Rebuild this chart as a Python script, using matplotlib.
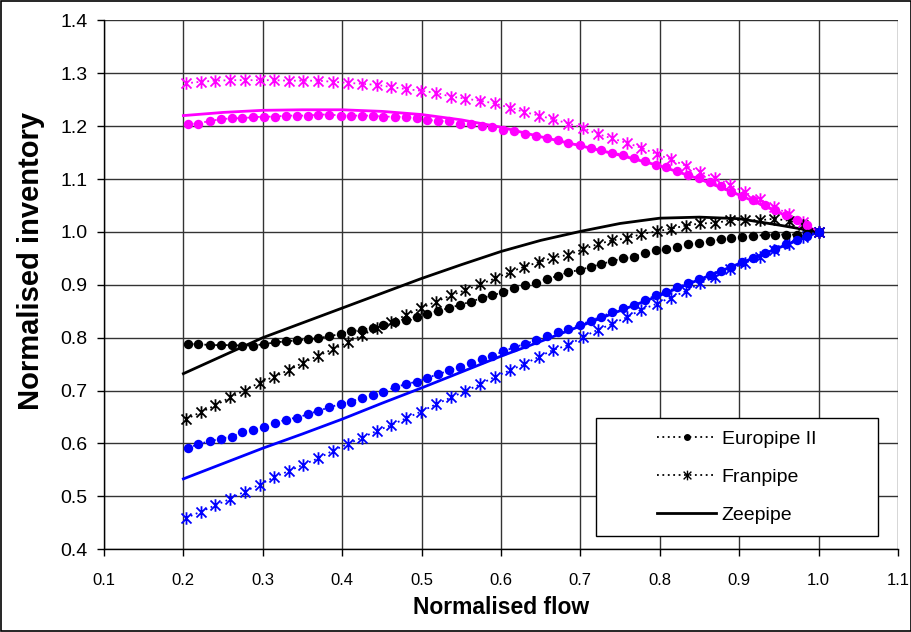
import matplotlib.pyplot as plt
from matplotlib.path import Path
from matplotlib.patches import Rectangle
from matplotlib.lines import Line2D

plt.rcParams['font.family'] = ['Liberation Sans', 'DejaVu Sans']

# flow values of the three data sets
x_euro = [0.206, 0.219, 0.233, 0.247, 0.261, 0.274, 0.288, 0.302, 0.315, 0.329,
          0.343, 0.357, 0.370, 0.384, 0.398, 0.411, 0.425, 0.439, 0.452, 0.466,
          0.480, 0.494, 0.507, 0.521, 0.535, 0.548, 0.562, 0.576, 0.589, 0.603,
          0.617, 0.630, 0.644, 0.658, 0.672, 0.685, 0.699, 0.713, 0.726, 0.740,
          0.754, 0.767, 0.781, 0.795, 0.808, 0.822, 0.836, 0.849, 0.863, 0.877,
          0.890, 0.904, 0.918, 0.932, 0.945, 0.959, 0.973, 0.986, 1.000]
x_fran = [0.203, 0.222, 0.240, 0.259, 0.277, 0.296, 0.314, 0.333, 0.351, 0.370,
          0.388, 0.407, 0.425, 0.444, 0.462, 0.481, 0.499, 0.518, 0.537, 0.555,
          0.574, 0.592, 0.611, 0.629, 0.648, 0.666, 0.685, 0.703, 0.722, 0.740,
          0.759, 0.777, 0.796, 0.814, 0.833, 0.851, 0.870, 0.889, 0.907, 0.926,
          0.944, 0.963, 0.981, 1.000]
x_zee = [0.20, 0.25, 0.30, 0.35, 0.40, 0.45, 0.50, 0.55, 0.60,
         0.65, 0.70, 0.75, 0.80, 0.85, 0.90, 0.95, 1.00]

# magenta set
mag_euro = [1.204, 1.205, 1.210, 1.213, 1.215, 1.215, 1.217, 1.218, 1.218, 1.220,
            1.220, 1.220, 1.222, 1.222, 1.220, 1.220, 1.220, 1.220, 1.218, 1.218,
            1.217, 1.215, 1.212, 1.210, 1.209, 1.205, 1.204, 1.200, 1.198,
            1.193, 1.190, 1.185, 1.181, 1.178, 1.173, 1.169, 1.164, 1.159, 1.154,
            1.150, 1.146, 1.139, 1.135, 1.127, 1.122, 1.115, 1.108, 1.102, 1.095,
            1.086, 1.076, 1.068, 1.060, 1.051, 1.042, 1.032, 1.023, 1.013, 1.000]
mag_fran = [1.281, 1.284, 1.286, 1.287, 1.287, 1.287, 1.287, 1.286, 1.286, 1.286,
            1.284, 1.282, 1.280, 1.278, 1.274, 1.270, 1.267, 1.263, 1.256, 1.252,
            1.248, 1.243, 1.235, 1.227, 1.220, 1.213, 1.205, 1.197, 1.185, 1.177,
            1.168, 1.159, 1.147, 1.137, 1.125, 1.114, 1.102, 1.089, 1.075, 1.062,
            1.048, 1.033, 1.019, 1.000]
mag_zee = [1.220, 1.226, 1.230, 1.231, 1.231, 1.228, 1.222, 1.212, 1.198,
           1.180, 1.163, 1.145, 1.125, 1.100, 1.070, 1.037, 1.000]

# black set
blk_euro = [0.788, 0.788, 0.786, 0.786, 0.786, 0.785, 0.785, 0.788, 0.791, 0.793,
            0.795, 0.797, 0.799, 0.803, 0.807, 0.812, 0.815, 0.819, 0.824, 0.829,
            0.834, 0.840, 0.844, 0.851, 0.856, 0.862, 0.868, 0.875, 0.880, 0.886,
            0.894, 0.900, 0.904, 0.911, 0.917, 0.924, 0.928, 0.934, 0.939, 0.945,
            0.950, 0.953, 0.960, 0.965, 0.968, 0.972, 0.977, 0.979, 0.982, 0.986,
            0.988, 0.991, 0.993, 0.994, 0.995, 0.995, 0.995, 0.997, 1.000]
blk_fran = [0.646, 0.659, 0.672, 0.687, 0.700, 0.715, 0.726, 0.739, 0.753, 0.766,
            0.778, 0.791, 0.805, 0.818, 0.830, 0.843, 0.856, 0.868, 0.880, 0.890,
            0.901, 0.912, 0.924, 0.934, 0.943, 0.951, 0.957, 0.967, 0.977, 0.984,
            0.988, 0.996, 1.001, 1.006, 1.012, 1.016, 1.017, 1.022, 1.023, 1.022,
            1.025, 1.021, 1.013, 1.000]
blk_zee = [0.732, 0.766, 0.800, 0.828, 0.856, 0.884, 0.912, 0.938, 0.963,
           0.984, 1.001, 1.016, 1.026, 1.028, 1.025, 1.013, 1.000]

# blue set
blu_euro = [0.591, 0.599, 0.604, 0.609, 0.613, 0.621, 0.626, 0.631, 0.638, 0.645,
            0.649, 0.655, 0.662, 0.668, 0.675, 0.679, 0.686, 0.692, 0.698, 0.706,
            0.712, 0.717, 0.724, 0.731, 0.738, 0.745, 0.752, 0.759, 0.766,
            0.774, 0.782, 0.788, 0.795, 0.803, 0.810, 0.817, 0.824, 0.832, 0.840,
            0.848, 0.856, 0.862, 0.871, 0.880, 0.887, 0.895, 0.904, 0.911, 0.919,
            0.927, 0.934, 0.943, 0.950, 0.960, 0.967, 0.977, 0.985, 0.993, 1.000]
blu_fran = [0.459, 0.471, 0.483, 0.495, 0.509, 0.522, 0.536, 0.548, 0.560, 0.572,
            0.586, 0.599, 0.611, 0.624, 0.635, 0.648, 0.660, 0.674, 0.687, 0.699,
            0.712, 0.726, 0.738, 0.750, 0.764, 0.777, 0.786, 0.801, 0.815, 0.826,
            0.839, 0.853, 0.864, 0.876, 0.888, 0.903, 0.915, 0.930, 0.941, 0.953,
            0.966, 0.978, 0.991, 1.000]
blu_zee = [0.533, 0.562, 0.591, 0.618, 0.646, 0.676, 0.705, 0.735, 0.765,
           0.793, 0.822, 0.851, 0.880, 0.910, 0.940, 0.970, 1.000]

labels = ['Europipe II', 'Franpipe', 'Zeepipe']

# excel style asterisk: an X plus a vertical bar
star = Path([(-1, -1), (1, 1), (-1, 1), (1, -1), (0, -1.25), (0, 1.25)],
            [Path.MOVETO, Path.LINETO] * 3)
dots = (0, (1, 2))

fig = plt.figure(figsize=(9.12, 6.32), dpi=100)
ax = fig.add_axes([0.114, 0.131, 0.8706, 0.8367])

sets = [('#FF00FF', mag_euro, mag_fran, mag_zee),
        ('black', blk_euro, blk_fran, blk_zee),
        ('#0000FF', blu_euro, blu_fran, blu_zee)]
for col, ye, yf, yz in sets:
    ax.plot(x_zee, yz, '-', color=col, lw=2, zorder=3)
    ax.plot(x_fran, yf, linestyle=dots, color=col, lw=1.3, marker=star,
            markersize=9, markeredgewidth=1.3, zorder=4)
    ax.plot(x_euro, ye, linestyle=dots, color=col, lw=1.3, marker='o',
            markersize=6.8, markeredgewidth=0, zorder=5)

ax.set_xlim(0.1, 1.1)
ax.set_ylim(0.4, 1.4)
ax.set_xticks([0.1 + 0.1 * i for i in range(11)])
ax.set_yticks([0.4 + 0.1 * i for i in range(11)])
ax.set_xticklabels(['%.1f' % (0.1 + 0.1 * i) for i in range(11)])
ax.set_yticklabels(['%.1f' % (0.4 + 0.1 * i) for i in range(11)])
ax.grid(True, color='#333333', lw=1)
ax.set_axisbelow(True)
for s in ['top', 'right']:
    ax.spines[s].set_visible(False)
for s in ['left', 'bottom']:
    ax.spines[s].set_color('black')
    ax.spines[s].set_linewidth(1)
ax.tick_params(direction='out', length=5, width=1, colors='black')
ax.tick_params(axis='x', pad=12, labelsize=12)
ax.tick_params(axis='y', pad=7, labelsize=14)
ax.set_xlabel('Normalised flow', fontsize=16.5, fontweight='bold')
ax.set_ylabel('Normalised inventory', fontsize=21, fontweight='bold')
ax.xaxis.set_label_coords(0.5, -0.088)
ax.yaxis.set_label_coords(-0.074, 0.546)

# legend box
ax.add_patch(Rectangle((0.6196, 0.0246), 0.355, 0.223, transform=ax.transAxes,
                       facecolor='white', edgecolor='black', lw=1, zorder=8))
handles = [Line2D([], [], color='black', linestyle=dots, lw=1.3, marker='o',
                  markersize=5, markeredgewidth=0),
           Line2D([], [], color='black', linestyle=dots, lw=1.3, marker=star,
                  markersize=7, markeredgewidth=1),
           Line2D([], [], color='black', lw=2)]
leg = ax.legend(handles, labels, loc='center', bbox_to_anchor=(0.797, 0.136),
                frameon=False, fontsize=14, handlelength=3.0, handletextpad=0.3,
                labelspacing=1.05)
leg.set_zorder(9)

fig.patches.append(Rectangle((0.001, 0.001), 0.998, 0.998, transform=fig.transFigure,
                             fill=False, edgecolor='black', lw=1.2))

fig.savefig('out.png', dpi=100)
